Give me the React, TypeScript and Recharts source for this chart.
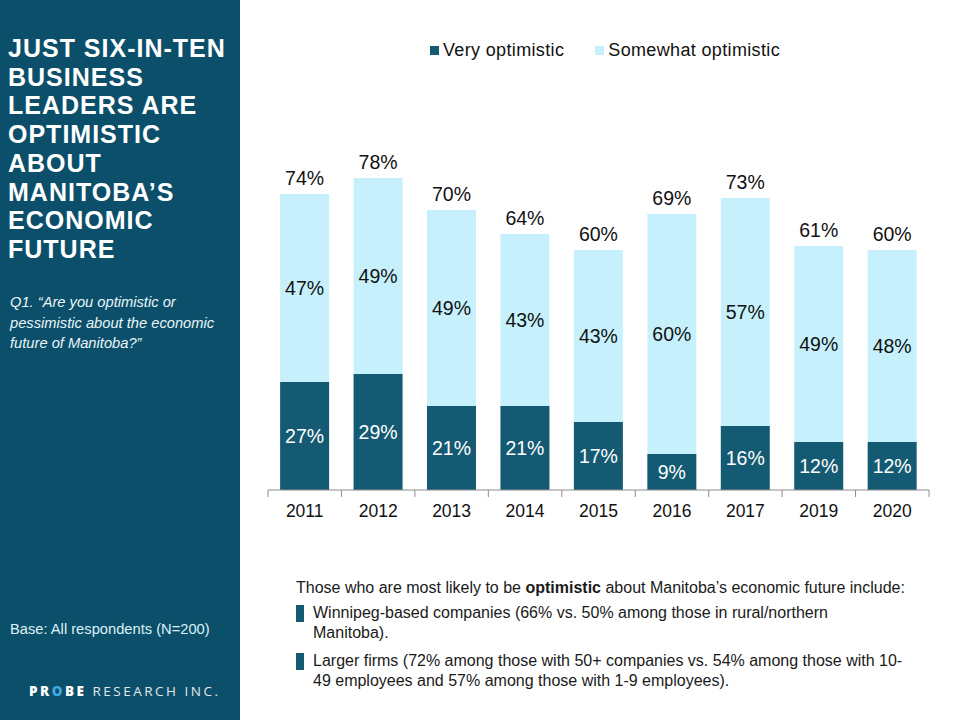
import React from 'react';
import { BarChart, Bar, XAxis, YAxis, Legend, LabelList } from 'recharts';

const years = ['2011', '2012', '2013', '2014', '2015', '2016', '2017', '2019', '2020'];
const veryOptimistic = [27, 29, 21, 21, 17, 9, 16, 12, 12];
const somewhatOptimistic = [47, 49, 49, 43, 43, 60, 57, 49, 48];
const totalOptimistic = [74, 78, 70, 64, 60, 69, 73, 61, 60];
const seriesNames = ['Very optimistic', 'Somewhat optimistic'];

const titleLines = ['JUST SIX-IN-TEN', 'BUSINESS', 'LEADERS ARE', 'OPTIMISTIC', 'ABOUT', 'MANITOBA\u2019S', 'ECONOMIC', 'FUTURE'];

const data = years.map((year, i) => ({
  year,
  very: veryOptimistic[i],
  somewhat: somewhatOptimistic[i],
  total: totalOptimistic[i],
}));

const PANEL = '#0B4F6A';
const DARK = '#155A73';
const LIGHT = '#C6F1FC';
const FONT = '"Liberation Sans", Arial, sans-serif';

const pct = (v: any) => `${v}%`;

const YearTick = (props: any) => {
  const { x, y, payload, index, visibleTicksCount } = props;
  const half = payload && typeof payload.offset === 'number' && payload.offset > 0 ? payload.offset : 36.7;
  const last = index === (visibleTicksCount ?? years.length) - 1;
  return (
    <g>
      <line x1={x - half} x2={x - half} y1={y} y2={y + 7} stroke="#8c8c8c" strokeWidth={1} />
      {last && <line x1={x + half} x2={x + half} y1={y} y2={y + 7} stroke="#8c8c8c" strokeWidth={1} />}
      <text x={x} y={y + 27} textAnchor="middle" fontSize={17.5} fill="#111" fontFamily={FONT}>
        {payload.value}
      </text>
    </g>
  );
};

const LegendContent = () => (
  <div style={{ display: 'flex', justifyContent: 'center', height: 20, alignItems: 'center', fontFamily: FONT, fontSize: 18, letterSpacing: 0.35, color: '#111', paddingLeft: 10 }}>
    <span style={{ display: 'inline-block', width: 9, height: 9, background: DARK, marginRight: 4 }} />
    <span style={{ marginRight: 31 }}>{seriesNames[0]}</span>
    <span style={{ display: 'inline-block', width: 9, height: 9, background: LIGHT, marginRight: 4 }} />
    <span>{seriesNames[1]}</span>
  </div>
);

const Bullet = () => (
  <span style={{ position: 'absolute', left: 0, top: 2, width: 8, height: 17, background: DARK }} />
);

export default function App() {
  return (
    <div style={{ position: 'absolute', left: 0, top: 0, width: 960, height: 720, background: '#fff', overflow: 'hidden', fontFamily: FONT }}>
      <div style={{ position: 'absolute', left: 0, top: 0, width: 240, height: 720, background: PANEL }}>
        <div style={{ position: 'absolute', left: 8, top: 34, color: '#fff', fontWeight: 700, fontSize: 25, letterSpacing: 1, lineHeight: '28.7px', whiteSpace: 'nowrap' }}>
          {titleLines.map((l) => (
            <div key={l}>{l}</div>
          ))}
        </div>
        <div style={{ position: 'absolute', left: 10, top: 292, color: '#EAF5F9', fontStyle: 'italic', fontSize: 14.7, lineHeight: '20.5px', width: 230, whiteSpace: 'nowrap' }}>
          Q1. &ldquo;Are you optimistic or<br />pessimistic about the economic<br />future of Manitoba?&rdquo;
        </div>
        <div style={{ position: 'absolute', left: 10, top: 621, color: '#DDF2F8', fontSize: 14.7, whiteSpace: 'nowrap' }}>
          Base: All respondents (N=200)
        </div>
        <div style={{ position: 'absolute', left: 29, top: 682, fontFamily: '"Open Sans", sans-serif', fontSize: 13.5, letterSpacing: 2.5, whiteSpace: 'nowrap' }}>
          <span style={{ color: '#fff', fontWeight: 800 }}>PR</span>
          <span style={{ color: '#3FA9E0', fontWeight: 800 }}>O</span>
          <span style={{ color: '#fff', fontWeight: 800 }}>BE</span>
          <span style={{ color: '#E4E8EA', fontWeight: 400 }}> RESEARCH INC.</span>
        </div>
      </div>

      <div style={{ position: 'absolute', left: 240, top: 0 }}>
        <BarChart
          width={720}
          height={530}
          data={data}
          margin={{ top: 70, right: 31, bottom: 10, left: 28 }}
          barCategoryGap="16.5%"
          style={{ fontFamily: FONT }}
        >
          <Legend verticalAlign="top" content={<LegendContent />} wrapperStyle={{ top: 40, left: 0, width: 720 }} />
          <YAxis hide domain={[0, 100]} />
          <XAxis
            dataKey="year"
            axisLine={{ stroke: '#8c8c8c' }}
            tickLine={false}
            tickSize={0}
            tickMargin={0}
            height={30}
            tick={<YearTick />}
            interval={0}
          />
          <Bar dataKey="very" name={seriesNames[0]} stackId="a" fill={DARK} isAnimationActive={false}>
            <LabelList dataKey="very" position="center" fill="#fff" fontSize={19.5} formatter={pct} />
          </Bar>
          <Bar dataKey="somewhat" name={seriesNames[1]} stackId="a" fill={LIGHT} isAnimationActive={false}>
            <LabelList dataKey="somewhat" position="center" fill="#111" fontSize={19.5} formatter={pct} />
            <LabelList dataKey="total" position="top" offset={9} fill="#111" fontSize={19.5} formatter={pct} />
          </Bar>
        </BarChart>
      </div>

      <div style={{ position: 'absolute', left: 296, top: 578, width: 650, color: '#1a1a1a', fontSize: 16 }}>
        <div style={{ lineHeight: '20px', whiteSpace: 'nowrap' }}>
          Those who are most likely to be <b>optimistic</b> about Manitoba&rsquo;s economic future include:
        </div>
        <div style={{ position: 'relative', paddingLeft: 17, marginTop: 5, lineHeight: '19.5px', whiteSpace: 'nowrap' }}>
          <Bullet />
          Winnipeg-based companies (66% vs. 50% among those in rural/northern<br />Manitoba).
        </div>
        <div style={{ position: 'relative', paddingLeft: 17, marginTop: 9, lineHeight: '19.5px', whiteSpace: 'nowrap' }}>
          <Bullet />
          Larger firms (72% among those with 50+ companies vs. 54% among those with 10-<br />49 employees and 57% among those with 1-9 employees).
        </div>
      </div>
    </div>
  );
}
